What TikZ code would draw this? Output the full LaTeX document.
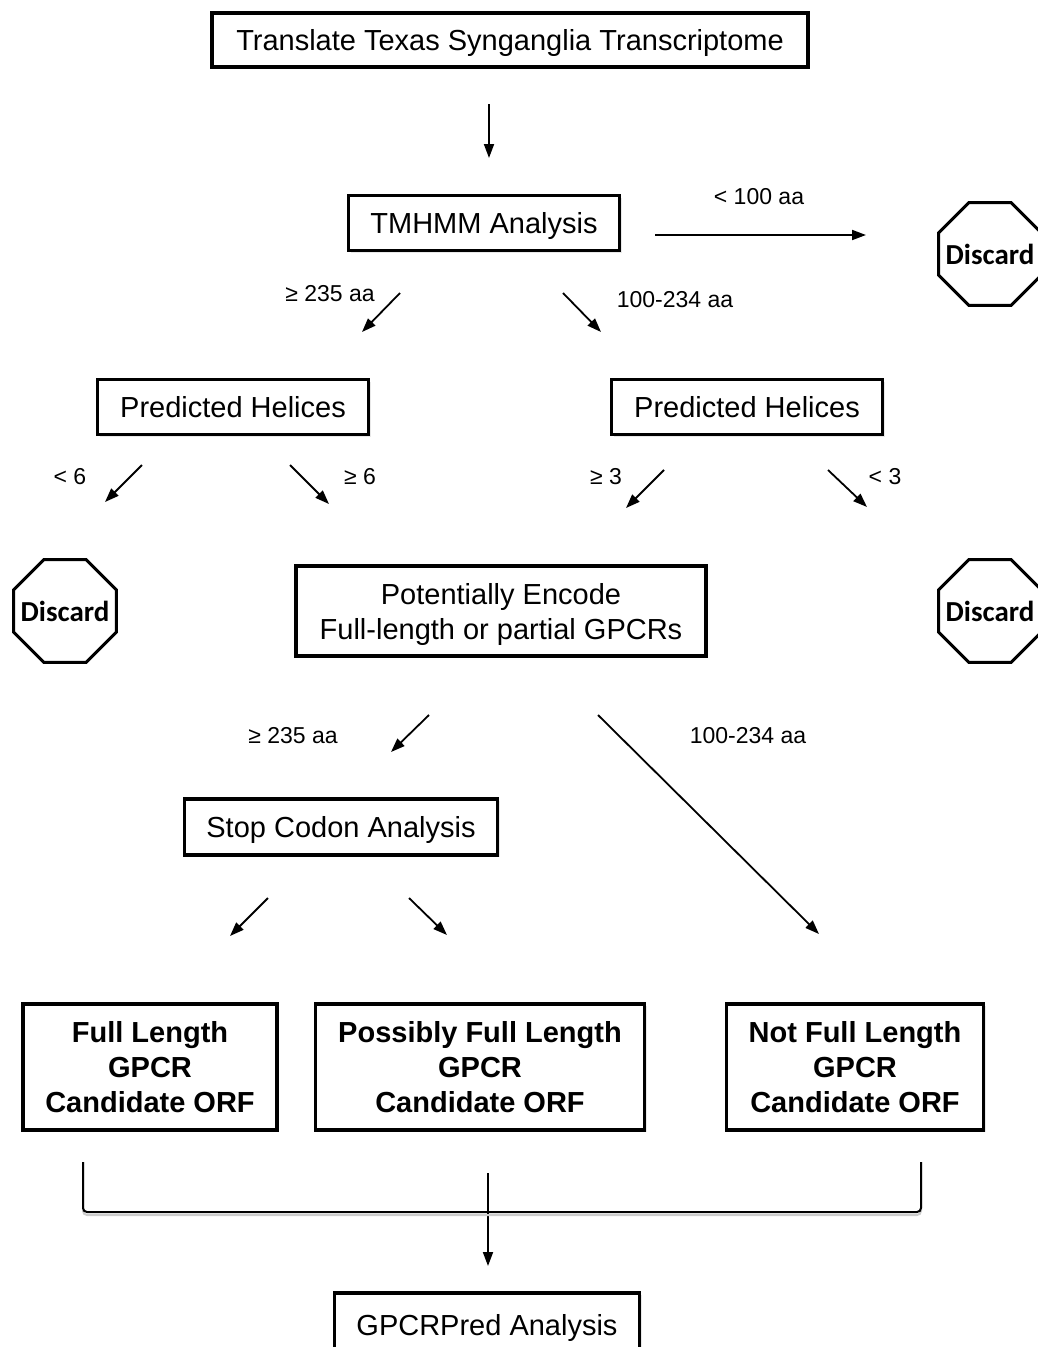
\documentclass[tikz,border=0pt]{standalone}
\usepackage{fontspec}
\setmainfont{Liberation Sans}
\newfontfamily\stopfont{Carlito}
\usetikzlibrary{shapes.geometric, arrows.meta, shadows}

\tikzset{
	stepbox/.style={draw, line width=3.5pt, fill=white, align=center, inner sep=0pt,
		text depth=0pt, font=\fontsize{29}{35}\selectfont,
		drop shadow={shadow xshift=2pt, shadow yshift=-2pt, opacity=0.18}},
	orfbox/.style={stepbox, font=\bfseries\fontsize{29}{35}\selectfont},
	stopsign/.style={draw, line width=3pt, fill=white, regular polygon, regular polygon sides=8,
		minimum size=111pt, inner sep=0pt},
	stoptext/.style={inner sep=0pt, font=\stopfont\bfseries\fontsize{29}{30}\selectfont},
	flow/.style={line width=1.8pt, -{Triangle[length=14pt, width=10pt]}},
	cond/.style={inner sep=0pt, font=\fontsize{23}{26}\selectfont}
}

\begin{document}
\begin{tikzpicture}[x=1pt, y=-1pt]
	\useasboundingbox (0,0) rectangle (1037,1347);

	% boxes of the pipeline
	\node[stepbox, minimum width=596pt, minimum height=54pt] (translate) at (510,40) {Translate Texas Synganglia Transcriptome};
	\node[stepbox, minimum width=271pt, minimum height=55pt] (tmhmm) at (484,223) {TMHMM Analysis};
	\node[stepbox, minimum width=271pt, minimum height=55pt] (helixL) at (233,407) {Predicted Helices};
	\node[stepbox, minimum width=271pt, minimum height=55pt] (helixR) at (747,407) {Predicted Helices};
	\node[stepbox, minimum width=410pt, minimum height=90pt] (encode) at (501,611) {Potentially Encode\\Full-length or partial GPCRs};
	\node[stepbox, minimum width=313pt, minimum height=56pt] (stopcodon) at (341,827) {Stop Codon Analysis};
	\node[orfbox, minimum width=254pt, minimum height=126pt] (fullorf) at (150,1067) {Full Length\\GPCR\\Candidate ORF};
	\node[orfbox, minimum width=329pt, minimum height=126pt] (possorf) at (480,1067) {Possibly Full Length\\GPCR\\Candidate ORF};
	\node[orfbox, minimum width=257pt, minimum height=126pt] (notorf) at (855,1067) {Not Full Length\\GPCR\\Candidate ORF};
	\node[stepbox, minimum width=305pt, minimum height=64pt] (gpcrpred) at (487,1325) {GPCRPred Analysis};

	% discarded sequences
	\node[stopsign, label={[stoptext]center:Discard}] (discardA) at (990,254) {};
	\node[stopsign, label={[stoptext]center:Discard}] (discardB) at (65,611) {};
	\node[stopsign, label={[stoptext]center:Discard}] (discardC) at (990,611) {};

	% filter arrows
	\foreach \n/\s/\e in {
		a/{489,104}/{489,158},
		b/{655,235}/{866,235},
		c/{400,293}/{362,332},
		d/{563,293}/{601,332},
		e/{142,465}/{105,502},
		f/{290,465}/{329,504},
		g/{664,470}/{626,508},
		h/{828,470}/{867,507},
		i/{429,715}/{391,752},
		j/{598,715}/{819,934},
		k/{268,898}/{230,936},
		l/{409,898}/{447,935},
		m/{488,1173}/{488,1266}}
	{
		\coordinate (\n-from) at (\s);
		\coordinate (\n-to) at (\e);
		\draw[flow] (\n-from) -- (\n-to);
	}

	% conditions
	\node[cond] (shortaa) at (759,197) {< 100 aa};
	\node[cond] (longaa) at (330,294) {≥ 235 aa};
	\node[cond] (midaa) at (675,300) {100-234 aa};
	\node[cond] (fewL) at (70,477) {< 6};
	\node[cond] (manyL) at (360,477) {≥ 6};
	\node[cond] (manyR) at (606,477) {≥ 3};
	\node[cond] (fewR) at (885,477) {< 3};
	\node[cond] (longaaB) at (293,736) {≥ 235 aa};
	\node[cond] (midaaB) at (748,736) {100-234 aa};

	% bracket joining the three ORF classes
	\coordinate (brL) at (83,1162);
	\coordinate (brR) at (921,1162);
	\draw[line width=2pt, black!20, rounded corners=4pt, xshift=2pt, yshift=-3pt] (brL) -- (brL |- 0,1212) -- (brR |- 0,1212) -- (brR);
	\draw[line width=2pt, rounded corners=4pt] (brL) -- (brL |- 0,1212) -- (brR |- 0,1212) -- (brR);
\end{tikzpicture}
\end{document}
